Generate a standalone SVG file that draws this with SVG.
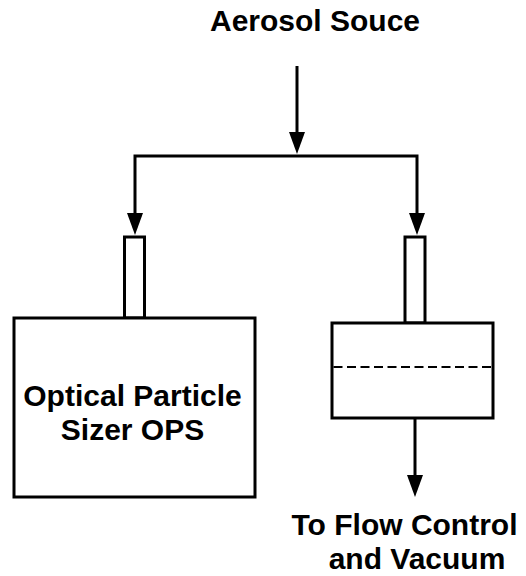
<svg xmlns="http://www.w3.org/2000/svg" width="526" height="576" viewBox="0 0 526 576">
  <style>
    .ln { fill: none; stroke: #000; stroke-width: 3; stroke-linejoin: miter; }
    .box { fill: #fff; stroke: #000; stroke-width: 3; }
    .dash { fill: none; stroke: #000; stroke-width: 2; stroke-dasharray: 9 4.5; }
    .lbl { font-family: "Liberation Sans", Arial, sans-serif; font-weight: bold; font-size: 30px; fill: #000; text-anchor: middle; }
  </style>
  <defs>
    <marker id="arr" markerUnits="userSpaceOnUse" viewBox="0 0 22 16" refX="0" refY="8" markerWidth="22" markerHeight="16" orient="auto">
      <path d="M0,0 L22,8 L0,16 Z" fill="#000"/>
    </marker>
  </defs>

  <g id="connectors">
    <path class="ln" d="M297,66 V132" marker-end="url(#arr)"/>
    <path class="ln" d="M297,156 H135 V213" marker-end="url(#arr)"/>
    <path class="ln" d="M297,156 H417 V213" marker-end="url(#arr)"/>
    <path class="ln" d="M415,418 V475" marker-end="url(#arr)"/>
  </g>

  <g id="source">
    <text class="lbl" x="315" y="31">Aerosol Souce</text>
  </g>

  <g id="ops">
    <rect class="box" x="124.5" y="237" width="20" height="81"/>
    <rect class="box" x="14" y="318" width="241" height="179"/>
    <text class="lbl" x="132.5" y="406">Optical Particle</text>
    <text class="lbl" x="132.5" y="440">Sizer OPS</text>
  </g>

  <g id="filter">
    <rect class="box" x="405" y="237" width="20" height="86"/>
    <rect class="box" x="332" y="323" width="161" height="95"/>
    <line class="dash" x1="333.5" y1="367" x2="491.5" y2="367"/>
  </g>

  <g id="outlet">
    <text class="lbl" x="404.5" y="535">To Flow Control</text>
    <text class="lbl" x="417" y="569">and Vacuum</text>
  </g>
</svg>
